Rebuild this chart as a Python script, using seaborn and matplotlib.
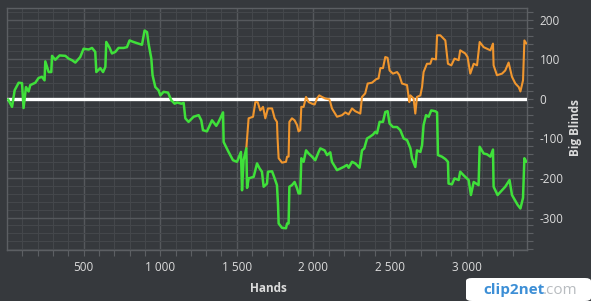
import numpy as np
import pandas as pd
import matplotlib
matplotlib.use("Agg")
import matplotlib.pyplot as plt
import seaborn as sns

# ---- data ----
green_hands = [7, 33, 50, 76, 98, 108, 124, 141, 152, 185, 206, 228, 245, 250, 272, 289, 294, 315, 343, 381,
               402, 424, 446, 478, 500, 533, 555, 576, 583, 609, 627, 642, 648, 670, 685, 707, 728, 761, 783, 800,
               826, 881, 898, 914, 924, 942, 950, 968, 989, 1001, 1022, 1051, 1072, 1094, 1110, 1138, 1153, 1164, 1185, 1218,
               1251, 1268, 1279, 1305, 1338, 1366, 1381, 1410, 1414, 1446, 1475, 1501, 1527, 1534, 1544, 1562,
               1567, 1577, 1610, 1632, 1649, 1664, 1675, 1697, 1703, 1730, 1747, 1762, 1769, 1773, 1795, 1821, 1828, 1838,
               1843, 1860, 1877, 1893, 1903, 1914, 1921, 1936, 1952, 1969, 1991, 2012, 2034, 2045, 2073, 2089, 2110, 2121,
               2154, 2175, 2197, 2219, 2230, 2252, 2273, 2301, 2317, 2332, 2350, 2367, 2389, 2404, 2415, 2432, 2454, 2469,
               2484, 2497, 2519, 2546, 2567, 2589, 2611, 2633, 2643, 2665, 2676, 2698, 2709, 2719, 2735, 2752, 2769, 2795,
               2807, 2813, 2839, 2861, 2878, 2882, 2904, 2921, 2948, 2958, 2980, 3013, 3028, 3046, 3078, 3085, 3111, 3133,
               3155, 3172, 3176, 3202, 3231, 3252, 3280, 3296, 3318, 3333, 3351, 3368, 3377, 3390]
green_bb = [-1, -20, 22, 41, 40, -23, 30, 19, 35, 41, 53, 56, 47, 95, 68, 68, 109, 99, 110, 109,
            102, 98, 92, 106, 127, 125, 129, 119, 68, 78, 68, 81, 144, 129, 115, 119, 129, 129, 131, 148,
            144, 137, 173, 169, 140, 102, 60, 30, 22, 9, 18, 16, -3, -12, -9, -12, -10, -49, -58, -45,
            -41, -54, -79, -82, -54, -68, -58, -34, -109, -134, -155, -159, -134, -231, -155, -125,
            -225, -201, -197, -163, -176, -184, -222, -214, -184, -183, -201, -218, -268, -315, -326, -327, -315, -315,
            -222, -218, -210, -226, -239, -239, -150, -159, -130, -138, -146, -155, -134, -125, -130, -142, -135, -159,
            -180, -176, -172, -167, -174, -159, -163, -174, -130, -125, -100, -96, -90, -83, -87, -58, -58, -33,
            -31, -62, -71, -71, -79, -100, -104, -125, -150, -172, -130, -134, -117, -66, -41, -45, -29, -31,
            -34, -142, -146, -152, -159, -214, -216, -201, -205, -184, -193, -205, -243, -210, -218, -121, -138, -140,
            -146, -128, -222, -243, -231, -222, -205, -243, -258, -268, -277, -250, -150, -159]

orange_hands = [1562, 1577, 1606, 1621, 1636, 1653, 1671, 1686, 1703, 1730, 1747, 1762, 1766, 1773, 1795, 1821, 1828, 1838,
                1843, 1860, 1877, 1893, 1903, 1914, 1921, 1936, 1952, 1969, 1991, 2008, 2023, 2038, 2056, 2078, 2104, 2110,
                2121, 2154, 2187, 2208, 2230, 2252, 2273, 2306, 2317, 2338, 2354, 2382, 2410, 2425, 2437, 2454, 2469, 2484,
                2497, 2519, 2546, 2561, 2578, 2611, 2626, 2633, 2654, 2665, 2676, 2698, 2709, 2719, 2741, 2763, 2774, 2800,
                2807, 2828, 2861, 2878, 2900, 2921, 2948, 2958, 2991, 3006, 3024, 3046, 3068, 3085, 3111, 3133, 3155, 3172,
                3176, 3198, 3231, 3252, 3274, 3296, 3318, 3340, 3351, 3368, 3377, 3390]
orange_bb = [-125, -49, -45, -8, -8, -29, -20, -49, -24, -24, -49, -58, -100, -150, -161, -159, -146, -146,
             -58, -49, -54, -66, -82, -79, -20, -20, 5, -8, -12, -14, 1, 9, 5, 1, -1, -8,
             -24, -45, -41, -34, -39, -24, -31, -37, 5, 14, 39, 41, 50, 52, 78, 78, 106, 104,
             72, 64, 68, 60, 39, 35, -8, 9, 1, -37, 5, 9, 30, 68, 89, 89, 102, 100,
             161, 161, 148, 89, 85, 102, 98, 123, 115, 106, 64, 89, 85, 144, 131, 127, 123, 140,
             85, 60, 64, 72, 92, 56, 39, 30, 19, 47, 148, 140]

x_ticks = [500, 1000, 1500, 2000, 2500, 3000]
x_tick_labels = ["500", "1 000", "1 500", "2 000", "2 500", "3 000"]
y_ticks = [-300, -200, -100, 0, 100, 200]
y_tick_labels = ["-300", "-200", "-100", "0", "100", "200"]

# ---- style ----
BG = "#36393d"
GRID_MAJ = "#55585c"
GRID_MIN = "#44474b"
TXT = "#dcdcdc"
sns.set_theme(style="dark")
plt.rcParams["font.family"] = ["Open Sans", "DejaVu Sans"]

fig = plt.figure(figsize=(5.91, 3.01), dpi=100, facecolor=BG)
ax = fig.add_axes([7 / 591, 51 / 301, 520 / 591, 242 / 301])
ax.set_facecolor(BG)

df_g = pd.DataFrame({"Hands": green_hands, "BB": green_bb})
df_o = pd.DataFrame({"Hands": orange_hands, "BB": orange_bb})

ax.axhline(0, color="white", lw=2.4, zorder=3)
sns.lineplot(data=df_o, x="Hands", y="BB", ax=ax, color="#f0962e", lw=1.5, sort=False, zorder=4)
sns.lineplot(data=df_g, x="Hands", y="BB", ax=ax, color="#3fe03a", lw=1.8, sort=False, zorder=5)

ax.set_xlim(0, 3394)
ax.set_ylim(-382, 230)

ax.set_xticks(x_ticks)
ax.set_xticklabels(x_tick_labels)
ax.set_xticks(np.arange(100, 3394, 100), minor=True)
ax.set_yticks(y_ticks)
ax.set_yticklabels(y_tick_labels)
ax.set_yticks(np.arange(-380, 230, 20), minor=True)
ax.yaxis.tick_right()

ax.grid(True, which="major", color=GRID_MAJ, lw=1.0)
ax.grid(True, which="minor", color=GRID_MIN, lw=0.8)
ax.set_axisbelow(True)

for s in ax.spines.values():
    s.set_visible(True)
    s.set_color("#5c5f63")
    s.set_linewidth(1.0)

ax.tick_params(axis="x", which="both", bottom=True, length=4, width=0.8, color="#5c5f63",
               colors=TXT, labelsize=8.5, pad=4)
ax.tick_params(axis="x", which="both", color="#5c5f63")
ax.tick_params(axis="y", which="both", right=True, left=False, length=4, width=0.8,
               labelsize=8.5, pad=5)
ax.tick_params(axis="y", which="both", color="#5c5f63", labelcolor=TXT)
ax.tick_params(axis="x", labelcolor=TXT)

ax.set_xlabel("")
ax.set_ylabel("")
fig.text(268 / 591, 1 - 289 / 301, "Hands", color=TXT, fontsize=8.5, fontweight="bold",
         ha="center", va="center")
fig.text(575 / 591, 1 - 128 / 301, "Big Blinds", color=TXT, fontsize=8.5, fontweight="bold",
         ha="center", va="center", rotation=90)

# watermark
fig.patches.append(matplotlib.patches.FancyBboxPatch((466 / 591, 0), 125 / 591, 23 / 301,
                                                     boxstyle="round,pad=0,rounding_size=0.01",
                                                     transform=fig.transFigure, facecolor="white",
                                                     edgecolor="none", zorder=10))
fig.text(483 / 591, 1 - 290 / 301, "clip2net", color="#3d8fd6", fontsize=11, fontweight="bold",
         ha="left", va="center", zorder=11)
fig.text(543 / 591, 1 - 290 / 301, ".com", color="#b8bcc0", fontsize=11,
         ha="left", va="center", zorder=11)

fig.savefig("out.png", dpi=100, facecolor=BG)
